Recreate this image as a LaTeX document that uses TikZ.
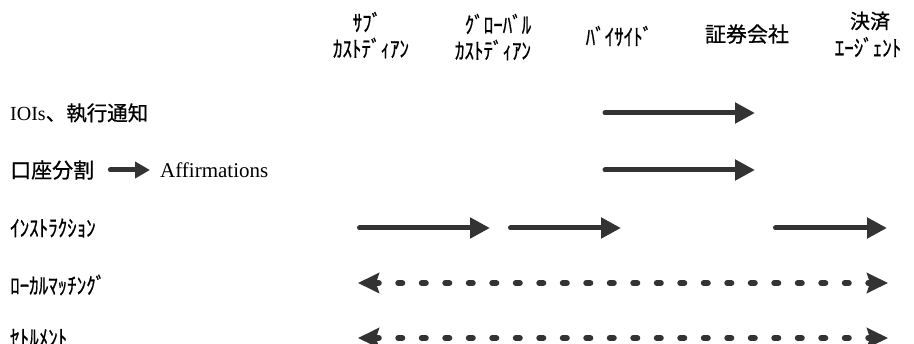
\documentclass[tikz,border=0pt]{standalone}
\usepackage{fontspec}
\setmainfont{Liberation Serif}
\newfontfamily\jp{Noto Sans CJK JP}[FakeBold=0.7]
\usetikzlibrary{arrows.meta}
\definecolor{ink}{HTML}{333333}
% tall half-width katakana
\newcommand{\hw}[1]{\scalebox{1}[1.2]{#1}}
\begin{document}
\begin{tikzpicture}[x=1pt,y=-1pt,
  hdr/.style={font=\jp\fontsize{19}{19}\selectfont, inner sep=0pt, anchor=center},
  lbl/.style={font=\jp\fontsize{19}{19}\selectfont, inner sep=0pt, anchor=west},
  flow/.style={draw=ink, line width=5pt, line cap=round,
    -{Triangle[length=20pt,width=20pt]}},
  smallflow/.style={draw=ink, line width=5pt, line cap=round,
    -{Triangle[length=15pt,width=16pt]}},
  match/.style={draw=ink, line width=6pt, line cap=round,
    dash pattern=on 4pt off 19.5pt,
    {Stealth[length=21pt,width=20pt,inset=3pt]}-{Stealth[length=21pt,width=20pt,inset=3pt]}}]
\useasboundingbox (0,0) rectangle (914,344);

% column headers
\node[hdr] (sub1) at (367,22) {\hw{ｻﾌﾞ}};
\node[hdr] (sub2) at (371,48) {\hw{ｶｽﾄﾃﾞｨｱﾝ}};
\node[hdr] (glo1) at (498,24) {\hw{ｸﾞﾛｰﾊﾞﾙ}};
\node[hdr] (glo2) at (493,50) {\hw{ｶｽﾄﾃﾞｨｱﾝ}};
\node[hdr] (buy)  at (619,36) {\hw{ﾊﾞｲｻｲﾄﾞ}};
\node[hdr, font=\jp\fontsize{21}{21}\selectfont] (sec) at (747,34) {証券会社};
\node[hdr, font=\jp\fontsize{20}{20}\selectfont] (agt1) at (870,21) {決済};
\node[hdr] (agt2) at (868,47) {\hw{ｴｰｼﾞｪﾝﾄ}};

% row labels
\node[lbl, font=\jp\fontsize{20.5}{20}\selectfont] (r1) at (10,113) {{\fontsize{20}{20}\rmfamily IOIs}、執行通知};
\node[lbl, font=\jp\fontsize{21}{21}\selectfont] (r2a) at (10,170) {口座分割};
\node[anchor=west, inner sep=0pt, font=\fontsize{21}{21}\selectfont] (r2b) at (160,170) {Affirmations};
\node[lbl] (r3) at (10,228) {\hw{ｲﾝｽﾄﾗｸｼｮﾝ}};
\node[lbl] (r4) at (10,285) {\hw{ﾛｰｶﾙﾏｯﾁﾝｸﾞ}};
\node[lbl] (r5) at (10,338) {\hw{ｾﾄﾙﾒﾝﾄ}};

% arrow end points
\coordinate (a1s) at (605,113);  \coordinate (a1e) at (755,113);
\coordinate (a2s) at (605,170);  \coordinate (a2e) at (755,170);
\coordinate (b1s) at (359.5,228); \coordinate (b1e) at (490,228);
\coordinate (b2s) at (510.5,228); \coordinate (b2e) at (621,228);
\coordinate (b3s) at (775.5,228); \coordinate (b3e) at (887,228);
\coordinate (c1s) at (358,283);  \coordinate (c1e) at (888,283);
\coordinate (d1s) at (358,338);  \coordinate (d1e) at (888,338);

% arrows
\draw[smallflow] ([xshift=16pt]r2a.east) -- ([xshift=-10pt]r2b.west);
\draw[flow] (a1s) -- (a1e);
\draw[flow] (a2s) -- (a2e);
\draw[flow] (b1s) -- (b1e);
\draw[flow] (b2s) -- (b2e);
\draw[flow] (b3s) -- (b3e);
\draw[match] (c1s) -- (c1e);
\draw[match] (d1s) -- (d1e);
\end{tikzpicture}
\end{document}
